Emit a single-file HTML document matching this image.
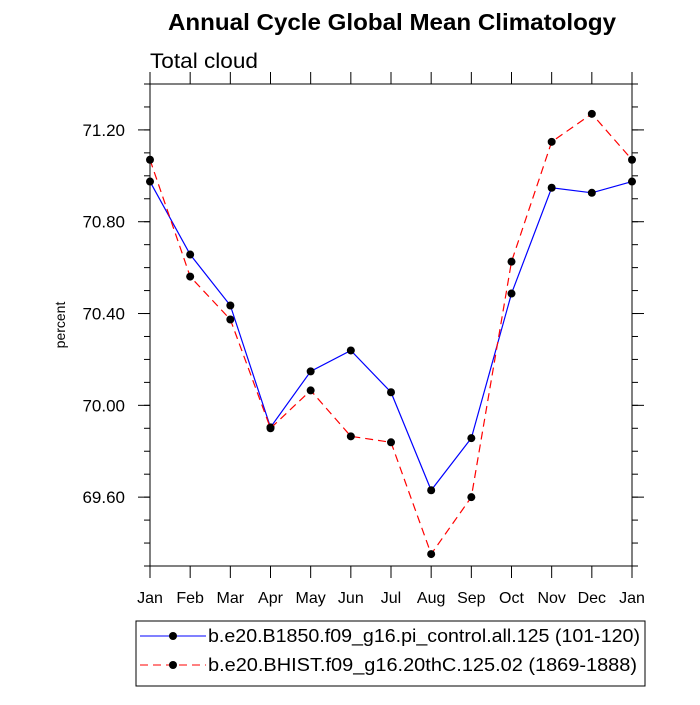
<!DOCTYPE html>
<html><head><meta charset="utf-8"><style>
body{margin:0;background:#fff}
svg text{font-family:"Liberation Sans",Arial,sans-serif}
</style></head><body>
<svg id="chart" width="700" height="700" viewBox="0 0 700 700" xmlns="http://www.w3.org/2000/svg">
<text x="168" y="30" font-size="23" font-weight="bold" textLength="448" lengthAdjust="spacingAndGlyphs">Annual Cycle Global Mean Climatology</text>
<text x="150" y="68" font-size="21" textLength="108" lengthAdjust="spacingAndGlyphs">Total cloud</text>
<text transform="translate(65,325) rotate(-90)" text-anchor="middle" font-size="14">percent</text>
<rect x="150" y="84" width="482" height="482" fill="none" stroke="#000" stroke-width="1"/>
<g id="axes"></g>
<g id="series"></g>
<g>
<rect x="136" y="621" width="509" height="65" fill="none" stroke="#000"/>
<line x1="140" y1="636" x2="206" y2="636" stroke="#0000ff"/>
<circle cx="173" cy="636" r="4" fill="#000"/>
<text x="208" y="642" font-size="18" textLength="432" lengthAdjust="spacingAndGlyphs">b.e20.B1850.f09_g16.pi_control.all.125 (101-120)</text>
<line x1="140" y1="665" x2="206" y2="665" stroke="#ff0000" stroke-dasharray="8,5"/>
<circle cx="173" cy="665" r="4" fill="#000"/>
<text x="208" y="671" font-size="18" textLength="429" lengthAdjust="spacingAndGlyphs">b.e20.BHIST.f09_g16.20thC.125.02 (1869-1888)</text>
</g>
</svg>
<script>
const months=["Jan","Feb","Mar","Apr","May","Jun","Jul","Aug","Sep","Oct","Nov","Dec","Jan"];
const controlValues=[70.975,70.657,70.435,69.904,70.148,70.239,70.057,69.630,69.857,70.487,70.948,70.926,70.975];
const histValues=[71.07,70.561,70.374,69.900,70.065,69.865,69.839,69.352,69.600,70.626,71.148,71.270,71.07];
const yTicks=[69.60,70.00,70.40,70.80,71.20];
const X0=150,X1=632,Y0=566,Y1=84,YMIN=69.30,YMAX=71.40;
const xs=i=>X0+(X1-X0)*i/(months.length-1);
const ys=v=>Y0-(v-YMIN)/(YMAX-YMIN)*(Y0-Y1);
const NS="http://www.w3.org/2000/svg";
const axes=document.getElementById('axes'),ser=document.getElementById('series');
function mk(tag,attrs,parent){const e=document.createElementNS(NS,tag);for(const k in attrs)e.setAttribute(k,attrs[k]);parent.appendChild(e);return e;}
months.forEach((m,i)=>{
  const x=xs(i);
  mk('line',{x1:x,y1:Y0,x2:x,y2:Y0+12,stroke:'#000'},axes);
  mk('line',{x1:x,y1:Y1,x2:x,y2:Y1-12,stroke:'#000'},axes);
  const t=mk('text',{x:x,y:Y0+37,'text-anchor':'middle','font-size':'16'},axes);
  
  
  t.textContent=m;
});
for(let v=69.3;v<=71.401;v+=0.1){
  const y=ys(v);
  mk('line',{x1:X0,y1:y,x2:X0-6,y2:y,stroke:'#000'},axes);
  mk('line',{x1:X1,y1:y,x2:X1+6,y2:y,stroke:'#000'},axes);
}
yTicks.forEach(v=>{
  const y=ys(v);
  mk('line',{x1:X0,y1:y,x2:X0-12,y2:y,stroke:'#000'},axes);
  mk('line',{x1:X1,y1:y,x2:X1+12,y2:y,stroke:'#000'},axes);
  const t=mk('text',{x:X0-25,y:y+6,'text-anchor':'end','font-size':'17'},axes);
  
  
  t.textContent=v.toFixed(2);
});
function drawSeries(vals,color,dash,name){
  const p=mk('polyline',{points:vals.map((v,i)=>xs(i)+','+ys(v)).join(' '),fill:'none',stroke:color,'stroke-width':1.2},ser);
  if(dash)p.setAttribute('stroke-dasharray',dash);
  
  
  vals.forEach((v,i)=>{
    const c=mk('circle',{cx:xs(i),cy:ys(v),r:4,fill:'#000'},ser);
    
    
  });
}
drawSeries(controlValues,'#0000ff',null,'control');
drawSeries(histValues,'#ff0000','8,5','hist');
</script>
</body></html>
